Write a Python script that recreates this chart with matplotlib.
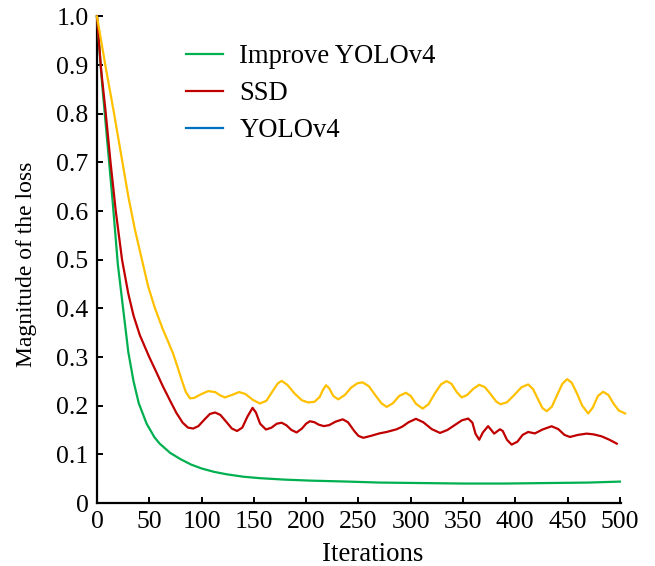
import matplotlib
matplotlib.use("Agg")
import matplotlib.pyplot as plt
from matplotlib.lines import Line2D

plt.rcParams["font.family"] = ["Liberation Serif", "DejaVu Serif"]
plt.rcParams["font.size"] = 18.5

# Loss curves over training iterations
improve_x = [0, 5, 10, 15, 20, 25, 30, 35, 40, 47.5, 55, 60, 70, 80, 90, 100,
             112, 124, 140, 156, 180, 204, 240, 270, 310, 350, 390, 430, 470, 500]
improve_y = [1.0, 0.86, 0.74, 0.62, 0.49, 0.40, 0.31, 0.25, 0.205, 0.163, 0.135,
             0.122, 0.103, 0.090, 0.079, 0.071, 0.064, 0.059, 0.054, 0.051, 0.048,
             0.046, 0.044, 0.042, 0.041, 0.040, 0.040, 0.041, 0.042, 0.044]

ssd_x = [0, 4, 8, 13, 18, 24, 30, 35, 41, 50, 57, 63, 70, 76, 82, 87, 92, 97,
         103, 108, 113, 118, 124, 129, 134, 139, 144, 148.8, 152, 156, 161.6,
         167, 172, 176.6, 181, 186, 190.9, 196, 200, 203.6, 208, 212, 217, 222,
         228, 235, 240, 246, 250, 254.6, 262, 270, 277, 286.5, 292, 298, 305,
         312, 320, 328, 335, 342, 349, 355, 359, 362, 365.5, 369, 374, 377,
         379.8, 385.3, 388, 392, 396.5, 402, 407, 412.3, 418.7, 426, 434.7, 441,
         447, 452.2, 460, 468.2, 475, 482.5, 490, 497]
ssd_y = [1.0, 0.89, 0.81, 0.70, 0.60, 0.50, 0.43, 0.385, 0.345, 0.300, 0.268,
         0.240, 0.210, 0.185, 0.165, 0.155, 0.153, 0.158, 0.172, 0.183, 0.186,
         0.181, 0.166, 0.153, 0.148, 0.155, 0.178, 0.1955, 0.186, 0.163, 0.151,
         0.155, 0.163, 0.165, 0.160, 0.150, 0.145, 0.153, 0.163, 0.168, 0.166,
         0.161, 0.158, 0.160, 0.167, 0.172, 0.166, 0.148, 0.138, 0.134, 0.138,
         0.143, 0.146, 0.1515, 0.157, 0.166, 0.173, 0.166, 0.152, 0.144, 0.150,
         0.160, 0.170, 0.1735, 0.165, 0.142, 0.130, 0.145, 0.158, 0.150, 0.1426,
         0.1515, 0.148, 0.130, 0.120, 0.126, 0.140, 0.146, 0.143, 0.151, 0.1577,
         0.152, 0.140, 0.1357, 0.140, 0.1426, 0.141, 0.137, 0.130, 0.122]

yolo_x = [0, 8, 16, 24, 30, 36, 43, 49, 55.5, 63, 68, 73, 77, 81, 85, 89, 93, 99,
          106.4, 113, 118, 122.4, 129, 136, 142, 149, 155.8, 162, 168, 173, 176.6,
          182, 189, 196, 202, 208, 213, 216, 219, 222, 226, 230.7, 237, 243, 249,
          254, 260, 266, 272, 277, 283, 289, 295.4, 300, 305, 311.4, 317, 323,
          329, 334.3, 339, 344, 348.7, 354, 360, 365.5, 371, 377, 382, 386, 392,
          399, 406, 412.3, 417, 422, 426, 430, 435, 440, 445, 449.6, 454, 459,
          464, 469.7, 474, 479, 484, 489, 494, 499, 505]
yolo_y = [1.0, 0.900, 0.805, 0.705, 0.630, 0.565, 0.500, 0.445, 0.400, 0.357,
          0.332, 0.306, 0.280, 0.253, 0.228, 0.215, 0.216, 0.223, 0.230, 0.228,
          0.221, 0.217, 0.222, 0.228, 0.224, 0.212, 0.2045, 0.210, 0.230, 0.246,
          0.251, 0.243, 0.225, 0.211, 0.2066, 0.208, 0.218, 0.232, 0.242, 0.236,
          0.220, 0.213, 0.222, 0.237, 0.246, 0.248, 0.240, 0.222, 0.205, 0.1975,
          0.205, 0.220, 0.2265, 0.220, 0.204, 0.194, 0.203, 0.225, 0.244, 0.2505,
          0.245, 0.228, 0.217, 0.222, 0.235, 0.243, 0.238, 0.222, 0.208, 0.203,
          0.207, 0.222, 0.238, 0.2437, 0.234, 0.212, 0.195, 0.1887, 0.198, 0.222,
          0.245, 0.2546, 0.247, 0.225, 0.200, 0.184, 0.196, 0.220, 0.2285, 0.222,
          0.204, 0.190, 0.184]

series_labels = ["Improve YOLOv4", "SSD", "YOLOv4"]
x_ticks = [0, 50, 100, 150, 200, 250, 300, 350, 400, 450, 500]
y_ticks = [0, 0.1, 0.2, 0.3, 0.4, 0.5, 0.6, 0.7, 0.8, 0.9, 1.0]
y_tick_labels = ["0", "0.1", "0.2", "0.3", "0.4", "0.5", "0.6", "0.7", "0.8", "0.9", "1.0"]

GREEN = "#00B050"
RED = "#C00000"
YELLOW = "#FFC000"
BLUE = "#0070C0"

fig = plt.figure(figsize=(6.55, 5.66), dpi=100)
ax = fig.add_axes([0.148, 0.1113, 0.800, 0.8597])

lw = 1.6
ax.plot(improve_x, improve_y, color=GREEN, lw=lw, clip_on=False, zorder=3)
ax.plot(ssd_x, ssd_y, color=RED, lw=lw, clip_on=False, zorder=3)
ax.plot(yolo_x, yolo_y, color=YELLOW, lw=lw, clip_on=False, zorder=3)

ax.set_xlim(0, 501)
ax.set_ylim(0, 1.0)
ax.set_xticks(x_ticks)
ax.set_yticks(y_ticks)
ax.set_yticklabels(y_tick_labels)

for side in ("top", "right"):
    ax.spines[side].set_visible(False)
for side in ("left", "bottom"):
    ax.spines[side].set_linewidth(1.6)
ax.tick_params(direction="in", length=4, width=1.4, pad=6)

ax.set_xlabel("Iterations", fontsize=19.3, labelpad=6, x=0.527)
ax.set_ylabel("Magnitude of the loss", fontsize=17, labelpad=14, y=0.49)

handles = [Line2D([], [], color=c, lw=lw) for c in (GREEN, RED, BLUE)]
fig.legend(handles, series_labels, loc="upper left",
           bbox_to_anchor=(0.284, 0.9223), frameon=False, fontsize=19.2,
           borderpad=0, borderaxespad=0, handlelength=1.4,
           handletextpad=0.6, labelspacing=0.45)

fig.savefig("out.png", dpi=100)
